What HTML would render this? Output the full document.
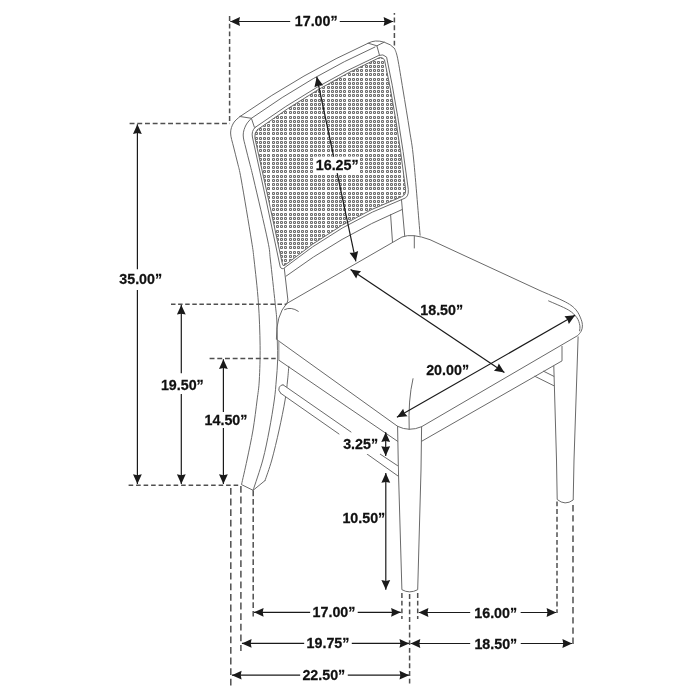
<!DOCTYPE html>
<html><head><meta charset="utf-8"><style>
html,body{margin:0;padding:0;background:#fff;}
svg{display:block;will-change:transform;}
text{font-family:"Liberation Sans",sans-serif;font-weight:bold;font-size:14.5px;fill:#111;stroke:#111;stroke-width:0.25px;}
</style></head><body>
<svg width="700" height="700" viewBox="0 0 700 700">
<rect width="700" height="700" fill="#fff"/>
<defs><pattern id="cane" x="31" y="10" width="38" height="38" patternUnits="userSpaceOnUse"><path d="M0.5,0.5h2v2h-2zM0.5,4.5h2v2h-2zM0.5,8.5h2v2h-2zM0.5,13.5h2v2h-2zM0.5,17.5h2v2h-2zM0.5,21.5h2v2h-2zM0.5,25.5h2v2h-2zM0.5,30.5h2v2h-2zM0.5,34.5h2v2h-2zM4.5,0.5h2v2h-2zM4.5,4.5h2v2h-2zM4.5,8.5h2v2h-2zM4.5,13.5h2v2h-2zM4.5,17.5h2v2h-2zM4.5,21.5h2v2h-2zM4.5,25.5h2v2h-2zM4.5,30.5h2v2h-2zM4.5,34.5h2v2h-2zM8.5,0.5h2v2h-2zM8.5,4.5h2v2h-2zM8.5,8.5h2v2h-2zM8.5,13.5h2v2h-2zM8.5,17.5h2v2h-2zM8.5,21.5h2v2h-2zM8.5,25.5h2v2h-2zM8.5,30.5h2v2h-2zM8.5,34.5h2v2h-2zM13.5,0.5h2v2h-2zM13.5,4.5h2v2h-2zM13.5,8.5h2v2h-2zM13.5,13.5h2v2h-2zM13.5,17.5h2v2h-2zM13.5,21.5h2v2h-2zM13.5,25.5h2v2h-2zM13.5,30.5h2v2h-2zM13.5,34.5h2v2h-2zM17.5,0.5h2v2h-2zM17.5,4.5h2v2h-2zM17.5,8.5h2v2h-2zM17.5,13.5h2v2h-2zM17.5,17.5h2v2h-2zM17.5,21.5h2v2h-2zM17.5,25.5h2v2h-2zM17.5,30.5h2v2h-2zM17.5,34.5h2v2h-2zM21.5,0.5h2v2h-2zM21.5,4.5h2v2h-2zM21.5,8.5h2v2h-2zM21.5,13.5h2v2h-2zM21.5,17.5h2v2h-2zM21.5,21.5h2v2h-2zM21.5,25.5h2v2h-2zM21.5,30.5h2v2h-2zM21.5,34.5h2v2h-2zM25.5,0.5h2v2h-2zM25.5,4.5h2v2h-2zM25.5,8.5h2v2h-2zM25.5,13.5h2v2h-2zM25.5,17.5h2v2h-2zM25.5,21.5h2v2h-2zM25.5,25.5h2v2h-2zM25.5,30.5h2v2h-2zM25.5,34.5h2v2h-2zM30.5,0.5h2v2h-2zM30.5,4.5h2v2h-2zM30.5,8.5h2v2h-2zM30.5,13.5h2v2h-2zM30.5,17.5h2v2h-2zM30.5,21.5h2v2h-2zM30.5,25.5h2v2h-2zM30.5,30.5h2v2h-2zM30.5,34.5h2v2h-2zM34.5,0.5h2v2h-2zM34.5,4.5h2v2h-2zM34.5,8.5h2v2h-2zM34.5,13.5h2v2h-2zM34.5,17.5h2v2h-2zM34.5,21.5h2v2h-2zM34.5,25.5h2v2h-2zM34.5,30.5h2v2h-2zM34.5,34.5h2v2h-2z" fill="#e6e6e6" stroke="#6c6c6c" stroke-width="1"/></pattern></defs>
<path d="M257.3,129.8 Q318,85.6 379.5,57.6 Q383,57 384.5,60 Q396,112 405.6,189.2 Q406,195.5 401.5,196.8 Q340,220 284.5,265.5 Q282.8,266.5 282.3,263.5 Q268.8,200 254.8,137.5 Q254.3,132.5 257.3,129.8 Z" fill="url(#cane)" stroke="none"/>
<path d="M255,127.5 Q317,83.1 378.9,55.4 Q383,53.6 386.6,57.1 Q398,110 408.3,189.5 Q409,197.5 403,199 Q341,222.5 283.5,268.5 Q280.5,269.5 279.8,265 Q266.5,201 252.4,137 Q251.3,131 255,127.5 Z" fill="none" stroke="#6a6a6a" stroke-width="1.0" stroke-linecap="round" stroke-linejoin="round"/>
<path d="M257.3,129.8 Q318,85.6 379.5,57.6 Q383,57 384.5,60 Q396,112 405.6,189.2 Q406,195.5 401.5,196.8 Q340,220 284.5,265.5 Q282.8,266.5 282.3,263.5 Q268.8,200 254.8,137.5 Q254.3,132.5 257.3,129.8 Z" fill="none" stroke="#6a6a6a" stroke-width="1.0" stroke-linecap="round" stroke-linejoin="round"/>
<path d="M240.00,116.50 C238.92,117.58 235.07,120.25 233.50,123.00 C231.93,125.75 230.58,129.00 230.60,133.00 C230.62,137.00 232.43,142.00 233.60,147.00 C234.77,152.00 236.32,157.50 237.60,163.00 C238.88,168.50 239.00,167.17 241.30,180.00 C243.60,192.83 249.27,226.67 251.40,240.00 C253.53,253.33 252.93,249.53 254.10,260.00 C255.27,270.47 257.40,288.52 258.40,302.80 C259.40,317.08 259.95,332.83 260.10,345.70 C260.25,358.57 259.80,370.95 259.30,380.00 C258.80,389.05 258.15,391.67 257.10,400.00 C256.05,408.33 254.68,420.00 253.00,430.00 C251.32,440.00 248.92,450.90 247.00,460.00 C245.08,469.10 242.42,480.50 241.50,484.60 L253.1,490.3 L265,480.6" fill="none" stroke="#6a6a6a" stroke-width="1.0" stroke-linecap="round" stroke-linejoin="round"/>
<path d="M251.40,118.30 C250.50,119.42 247.37,122.22 246.00,125.00 C244.63,127.78 243.23,131.17 243.20,135.00 C243.17,138.83 244.73,143.33 245.80,148.00 C246.87,152.67 248.27,157.67 249.60,163.00 C250.93,168.33 250.80,167.17 253.80,180.00 C256.80,192.83 264.83,226.67 267.60,240.00 C270.37,253.33 269.15,249.53 270.40,260.00 C271.65,270.47 274.03,292.80 275.10,302.80 C276.17,312.80 276.43,313.80 276.80,320.00 C277.17,326.20 277.17,333.17 277.30,340.00 C277.43,346.83 277.77,354.33 277.60,361.00 C277.43,367.67 276.85,373.50 276.30,380.00 C275.75,386.50 275.47,391.67 274.30,400.00 C273.13,408.33 271.22,420.00 269.30,430.00 C267.38,440.00 265.50,449.95 262.80,460.00 C260.10,470.05 254.72,485.25 253.10,490.30" fill="none" stroke="#6a6a6a" stroke-width="1.0" stroke-linecap="round" stroke-linejoin="round"/>
<path d="M288.80,366.30 C288.60,368.58 288.22,374.38 287.60,380.00 C286.98,385.62 286.52,391.67 285.10,400.00 C283.68,408.33 281.32,420.00 279.10,430.00 C276.88,440.00 274.15,451.57 271.80,460.00 C269.45,468.43 266.13,477.17 265.00,480.60" fill="none" stroke="#6a6a6a" stroke-width="1.0" stroke-linecap="round" stroke-linejoin="round"/>
<path d="M284.3,268.5 L287.9,300 L286.8,303.6" fill="none" stroke="#6a6a6a" stroke-width="1.0" stroke-linecap="round" stroke-linejoin="round"/>
<path d="M240,116.5 L251.4,118.3 L254.3,127" fill="none" stroke="#6a6a6a" stroke-width="1.0" stroke-linecap="round" stroke-linejoin="round"/>
<path d="M240,116.5 Q304,72.2 368.2,43.2 Q375,39.3 384.2,42.2 Q391,44.2 394.5,48.4" fill="none" stroke="#6a6a6a" stroke-width="1.0" stroke-linecap="round" stroke-linejoin="round"/>
<path d="M394.50,48.40 C395.02,50.03 396.18,51.27 397.60,58.20 C399.02,65.13 401.02,78.03 403.00,90.00 C404.98,101.97 407.72,118.33 409.50,130.00 C411.28,141.67 411.93,142.47 413.70,160.00 C415.47,177.53 419.03,222.67 420.10,235.20" fill="none" stroke="#6a6a6a" stroke-width="1.0" stroke-linecap="round" stroke-linejoin="round"/>
<path d="M251.4,118.3 Q313.2,74.6 375,47" fill="none" stroke="#6a6a6a" stroke-width="1.0" stroke-linecap="round" stroke-linejoin="round"/>
<path d="M368.2,43.2 L376.9,45.8 L379.5,55.3 M376.9,45.8 L384.2,42.2" fill="none" stroke="#6a6a6a" stroke-width="1.0" stroke-linecap="round" stroke-linejoin="round"/>
<path d="M286,276.2 Q340,236 402.1,209.5" fill="none" stroke="#6a6a6a" stroke-width="1.0" stroke-linecap="round" stroke-linejoin="round"/>
<path d="M401.5,199.8 L404.7,235.8" fill="none" stroke="#6a6a6a" stroke-width="1.0" stroke-linecap="round" stroke-linejoin="round"/>
<path d="M390.6,214.6 L392.5,242.3" fill="none" stroke="#6a6a6a" stroke-width="1.0" stroke-linecap="round" stroke-linejoin="round"/>
<path d="M286.6,303.6 L402,237 Q412,233 430,239.7 L540,290.6  C544.28,292.52 559.70,298.88 565.70,302.10 C571.70,305.32 573.43,307.03 576.00,309.90 C578.57,312.77 580.03,316.60 581.10,319.30 C582.17,322.00 582.40,324.10 582.40,326.10 C582.40,328.10 581.88,329.72 581.10,331.30 C580.32,332.88 578.27,334.88 577.70,335.60 L421.6,426.7 Q409,432 397.6,426.3 L276.4,339.3 Q276,315 286.6,303.6" fill="none" stroke="#6a6a6a" stroke-width="1.0" stroke-linecap="round" stroke-linejoin="round"/>
<path d="M414.3,236 L414.3,248" fill="none" stroke="#6a6a6a" stroke-width="1.0" stroke-linecap="round" stroke-linejoin="round"/>
<path d="M548.60,300.90 C551.88,302.40 563.60,307.12 568.30,309.90 C573.00,312.68 574.88,315.03 576.80,317.60 C578.72,320.17 579.33,323.10 579.80,325.30 C580.27,327.50 579.63,329.88 579.60,330.80" fill="none" stroke="#6a6a6a" stroke-width="1.0" stroke-linecap="round" stroke-linejoin="round"/>
<path d="M413,378.7 Q408,400 409.2,429.5" fill="none" stroke="#6a6a6a" stroke-width="1.0" stroke-linecap="round" stroke-linejoin="round"/>
<path d="M284.6,309.6 Q291,306.3 298.3,311.3" fill="none" stroke="#6a6a6a" stroke-width="1.0" stroke-linecap="round" stroke-linejoin="round"/>
<path d="M278.6,360 L397.6,441.3" fill="none" stroke="#6a6a6a" stroke-width="1.0" stroke-linecap="round" stroke-linejoin="round"/>
<path d="M421.6,441.3 L562,360.9 L562,346.3" fill="none" stroke="#6a6a6a" stroke-width="1.0" stroke-linecap="round" stroke-linejoin="round"/>
<line x1="278.6" y1="340.5" x2="278.6" y2="360" stroke="#aaa" stroke-width="1.8"/>
<path d="M397.6,426.3 L398.4,470 L401.9,589.7 Q409.6,594 417.7,589.7 L421,470 L421.6,426.7" fill="none" stroke="#6a6a6a" stroke-width="1.0" stroke-linecap="round" stroke-linejoin="round"/>
<path d="M578.1,336.9 L574,460 L573.2,500 Q565,506 557.2,499.5 L556.5,460 L553.8,366" fill="none" stroke="#6a6a6a" stroke-width="1.0" stroke-linecap="round" stroke-linejoin="round"/>
<path d="M553.8,376.3 L543.5,371.2 M553.8,385.7 L534.9,376.3" fill="none" stroke="#6a6a6a" stroke-width="1.0" stroke-linecap="round" stroke-linejoin="round"/>
<path d="M283,384.8 L397.6,465.7 L398,476 L280.6,393.2 Q277.5,390 279.3,387.2 Q280.5,384.8 283,384.8 Z" fill="#fff"/>
<path d="M283,384.8 L351,432 M380,454 L397.6,465.7" fill="none" stroke="#6a6a6a" stroke-width="1.0" stroke-linecap="round" stroke-linejoin="round"/>
<path d="M280.6,393.2 L339,434 M367,454 L398,476" fill="none" stroke="#6a6a6a" stroke-width="1.0" stroke-linecap="round" stroke-linejoin="round"/>
<path d="M283,384.8 Q280.5,384.8 279.3,387.2 Q277.5,390 280.6,393.2" fill="none" stroke="#6a6a6a" stroke-width="1.0" stroke-linecap="round" stroke-linejoin="round"/>
<line x1="230.30" y1="21.50" x2="290.19" y2="21.50" stroke="#1a1a1a" stroke-width="1.2"/>
<line x1="339.76" y1="21.50" x2="393.30" y2="21.50" stroke="#1a1a1a" stroke-width="1.2"/>
<path d="M230.30,21.50 L240.00,25.90 L239.10,21.50 L240.00,17.10 Z" fill="#1a1a1a"/>
<path d="M393.30,21.50 L383.60,17.10 L384.50,21.50 L383.60,25.90 Z" fill="#1a1a1a"/>
<text transform="translate(316.2,26) scale(0.985,1)" text-anchor="middle">17.00&#8221;</text>
<line x1="229.6" y1="16" x2="229.6" y2="123.6" stroke="#505050" stroke-width="1.5" stroke-dasharray="4.9 2.8" stroke-dashoffset="0"/>
<line x1="394.4" y1="45.6" x2="394.4" y2="13" stroke="#505050" stroke-width="1.5" stroke-dasharray="4.9 2.8" stroke-dashoffset="0"/>
<line x1="137.40" y1="124.30" x2="137.40" y2="269.14" stroke="#1a1a1a" stroke-width="1.2"/>
<line x1="137.40" y1="290.05" x2="137.40" y2="484.00" stroke="#1a1a1a" stroke-width="1.2"/>
<path d="M137.40,124.30 L133.00,134.00 L137.40,133.10 L141.80,134.00 Z" fill="#1a1a1a"/>
<path d="M137.40,484.00 L141.80,474.30 L137.40,475.20 L133.00,474.30 Z" fill="#1a1a1a"/>
<text transform="translate(140.7,284) scale(0.985,1)" text-anchor="middle">35.00&#8221;</text>
<line x1="129.6" y1="123.6" x2="230" y2="123.6" stroke="#505050" stroke-width="1.5" stroke-dasharray="4.9 2.8" stroke-dashoffset="0"/>
<line x1="128.6" y1="485.2" x2="240.6" y2="485.2" stroke="#505050" stroke-width="1.5" stroke-dasharray="4.6 2.9" stroke-dashoffset="0"/>
<line x1="181.30" y1="304.90" x2="181.30" y2="373.17" stroke="#1a1a1a" stroke-width="1.2"/>
<line x1="181.30" y1="394.00" x2="181.30" y2="484.00" stroke="#1a1a1a" stroke-width="1.2"/>
<path d="M181.30,304.90 L176.90,314.60 L181.30,313.70 L185.70,314.60 Z" fill="#1a1a1a"/>
<path d="M181.30,484.00 L185.70,474.30 L181.30,475.20 L176.90,474.30 Z" fill="#1a1a1a"/>
<text transform="translate(182.3,390.1) scale(0.985,1)" text-anchor="middle">19.50&#8221;</text>
<line x1="171" y1="304.3" x2="286.4" y2="304.3" stroke="#505050" stroke-width="1.5" stroke-dasharray="4.5 2.6" stroke-dashoffset="0"/>
<line x1="223.40" y1="359.30" x2="223.40" y2="412.11" stroke="#1a1a1a" stroke-width="1.2"/>
<line x1="223.40" y1="427.93" x2="223.40" y2="484.00" stroke="#1a1a1a" stroke-width="1.2"/>
<path d="M223.40,359.30 L219.00,369.00 L223.40,368.10 L227.80,369.00 Z" fill="#1a1a1a"/>
<path d="M223.40,484.00 L227.80,474.30 L223.40,475.20 L219.00,474.30 Z" fill="#1a1a1a"/>
<text transform="translate(226,425.3) scale(0.985,1)" text-anchor="middle">14.50&#8221;</text>
<line x1="209.6" y1="358.6" x2="275.7" y2="358.6" stroke="#505050" stroke-width="1.5" stroke-dasharray="4.9 2.8" stroke-dashoffset="0"/>
<rect x="313" y="156.6" width="47" height="16.5" fill="#fff"/>
<line x1="316.75" y1="76.78" x2="333.68" y2="156.69" stroke="#1a1a1a" stroke-width="1.2"/>
<line x1="337.15" y1="173.07" x2="355.85" y2="261.32" stroke="#1a1a1a" stroke-width="1.2"/>
<path d="M316.75,76.78 L314.45,87.19 L318.57,85.39 L323.06,85.36 Z" fill="#1a1a1a"/>
<path d="M355.85,261.32 L358.15,250.91 L354.03,252.71 L349.54,252.74 Z" fill="#1a1a1a"/>
<text transform="translate(337.2,170.3) scale(0.985,1)" text-anchor="middle">16.25&#8221;</text>
<line x1="350.58" y1="269.39" x2="504.42" y2="372.61" stroke="#1a1a1a" stroke-width="1.2"/>
<path d="M350.58,269.39 L356.18,278.45 L357.89,274.29 L361.09,271.14 Z" fill="#1a1a1a"/>
<path d="M504.42,372.61 L498.82,363.55 L497.11,367.71 L493.91,370.86 Z" fill="#1a1a1a"/>
<text transform="translate(441.7,314.9) scale(0.985,1)" text-anchor="middle">18.50&#8221;</text>
<line x1="396.91" y1="417.35" x2="575.09" y2="315.35" stroke="#1a1a1a" stroke-width="1.2"/>
<path d="M396.91,417.35 L407.51,416.35 L404.54,412.98 L403.14,408.71 Z" fill="#1a1a1a"/>
<path d="M575.09,315.35 L564.49,316.35 L567.46,319.72 L568.86,323.99 Z" fill="#1a1a1a"/>
<text transform="translate(447.6,374.9) scale(0.985,1)" text-anchor="middle">20.00&#8221;</text>
<rect x="340" y="436" width="40" height="18" fill="#fff"/>
<line x1="385.70" y1="432.30" x2="385.70" y2="455.90" stroke="#1a1a1a" stroke-width="1.2"/>
<path d="M385.70,432.30 L381.30,442.00 L385.70,441.10 L390.10,442.00 Z" fill="#1a1a1a"/>
<path d="M385.70,455.90 L390.10,446.20 L385.70,447.10 L381.30,446.20 Z" fill="#1a1a1a"/>
<text transform="translate(360.6,449.2) scale(0.985,1)" text-anchor="middle">3.25&#8221;</text>
<line x1="385.80" y1="473.10" x2="385.80" y2="589.70" stroke="#1a1a1a" stroke-width="1.2"/>
<path d="M385.80,473.10 L381.40,482.80 L385.80,481.90 L390.20,482.80 Z" fill="#1a1a1a"/>
<path d="M385.80,589.70 L390.20,580.00 L385.80,580.90 L381.40,580.00 Z" fill="#1a1a1a"/>
<text transform="translate(363.8,523) scale(0.985,1)" text-anchor="middle">10.50&#8221;</text>
<line x1="253.90" y1="612.30" x2="310.16" y2="612.30" stroke="#1a1a1a" stroke-width="1.2"/>
<line x1="357.71" y1="612.30" x2="400.80" y2="612.30" stroke="#1a1a1a" stroke-width="1.2"/>
<path d="M253.90,612.30 L263.60,616.70 L262.70,612.30 L263.60,607.90 Z" fill="#1a1a1a"/>
<path d="M400.80,612.30 L391.10,607.90 L392.00,612.30 L391.10,616.70 Z" fill="#1a1a1a"/>
<text transform="translate(334,617.3) scale(0.985,1)" text-anchor="middle">17.00&#8221;</text>
<line x1="418.70" y1="612.50" x2="470.18" y2="612.50" stroke="#1a1a1a" stroke-width="1.2"/>
<line x1="520.66" y1="612.50" x2="556.30" y2="612.50" stroke="#1a1a1a" stroke-width="1.2"/>
<path d="M418.70,612.50 L428.40,616.90 L427.50,612.50 L428.40,608.10 Z" fill="#1a1a1a"/>
<path d="M556.30,612.50 L546.60,608.10 L547.50,612.50 L546.60,616.90 Z" fill="#1a1a1a"/>
<text transform="translate(495.7,617.5) scale(0.985,1)" text-anchor="middle">16.00&#8221;</text>
<line x1="241.90" y1="643.40" x2="304.18" y2="643.40" stroke="#1a1a1a" stroke-width="1.2"/>
<line x1="351.78" y1="643.40" x2="409.20" y2="643.40" stroke="#1a1a1a" stroke-width="1.2"/>
<path d="M241.90,643.40 L251.60,647.80 L250.70,643.40 L251.60,639.00 Z" fill="#1a1a1a"/>
<path d="M409.20,643.40 L399.50,639.00 L400.40,643.40 L399.50,647.80 Z" fill="#1a1a1a"/>
<text transform="translate(328,648.4) scale(0.985,1)" text-anchor="middle">19.75&#8221;</text>
<line x1="410.60" y1="643.50" x2="470.18" y2="643.50" stroke="#1a1a1a" stroke-width="1.2"/>
<line x1="520.75" y1="643.50" x2="572.10" y2="643.50" stroke="#1a1a1a" stroke-width="1.2"/>
<path d="M410.60,643.50 L420.30,647.90 L419.40,643.50 L420.30,639.10 Z" fill="#1a1a1a"/>
<path d="M572.10,643.50 L562.40,639.10 L563.30,643.50 L562.40,647.90 Z" fill="#1a1a1a"/>
<text transform="translate(495.8,648.5) scale(0.985,1)" text-anchor="middle">18.50&#8221;</text>
<line x1="231.90" y1="675.20" x2="300.16" y2="675.20" stroke="#1a1a1a" stroke-width="1.2"/>
<line x1="347.78" y1="675.20" x2="409.20" y2="675.20" stroke="#1a1a1a" stroke-width="1.2"/>
<path d="M231.90,675.20 L241.60,679.60 L240.70,675.20 L241.60,670.80 Z" fill="#1a1a1a"/>
<path d="M409.20,675.20 L399.50,670.80 L400.40,675.20 L399.50,679.60 Z" fill="#1a1a1a"/>
<text transform="translate(323.8,680.2) scale(0.985,1)" text-anchor="middle">22.50&#8221;</text>
<line x1="230.8" y1="488" x2="230.8" y2="686.5" stroke="#505050" stroke-width="1.5" stroke-dasharray="6.8 3.8" stroke-dashoffset="0"/>
<line x1="240.9" y1="486" x2="240.9" y2="651" stroke="#505050" stroke-width="1.5" stroke-dasharray="6.8 3.8" stroke-dashoffset="0"/>
<line x1="253.2" y1="490.5" x2="253.2" y2="619" stroke="#505050" stroke-width="1.5" stroke-dasharray="5.7 2.9" stroke-dashoffset="0"/>
<line x1="401.9" y1="593" x2="401.9" y2="619" stroke="#505050" stroke-width="1.5" stroke-dasharray="4.9 2.8" stroke-dashoffset="0"/>
<line x1="409.6" y1="594" x2="409.6" y2="686" stroke="#505050" stroke-width="1.5" stroke-dasharray="4.9 2.8" stroke-dashoffset="0"/>
<line x1="417.7" y1="593" x2="417.7" y2="619" stroke="#505050" stroke-width="1.5" stroke-dasharray="4.9 2.8" stroke-dashoffset="0"/>
<line x1="557" y1="501.4" x2="557" y2="613" stroke="#505050" stroke-width="1.5" stroke-dasharray="4.9 2.8" stroke-dashoffset="0"/>
<line x1="573" y1="505" x2="573" y2="644" stroke="#505050" stroke-width="1.5" stroke-dasharray="6.4 3.8" stroke-dashoffset="0"/>
</svg>
</body></html>
